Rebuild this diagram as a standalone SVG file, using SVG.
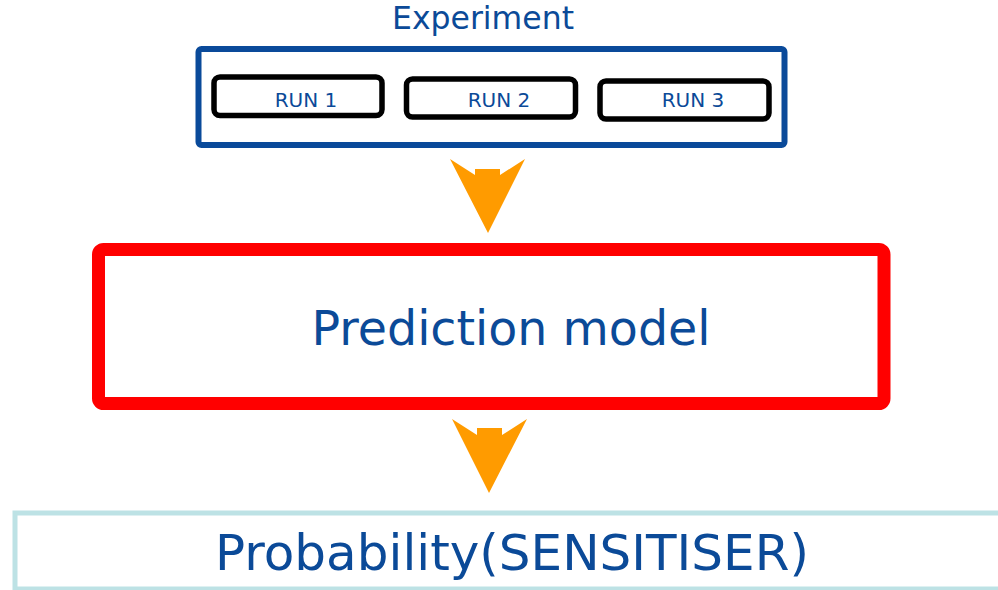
<svg xmlns="http://www.w3.org/2000/svg" width="998" height="590" viewBox="0 0 998 590">
<style>
.t{font-family:"DejaVu Sans","Verdana",sans-serif;fill:#0b4a98;text-anchor:middle}
.run{fill:#ffffff;stroke:#000000;stroke-width:5.5}
.arrow{fill:#ff9b00}
</style>
<rect width="998" height="590" fill="#ffffff"/>
<g id="experiment">
<text class="t" x="483" y="29" font-size="31.5">Experiment</text>
<rect x="198.5" y="49" width="586" height="96" rx="3" fill="#ffffff" stroke="#0a4a9a" stroke-width="6"/>
</g>
<g id="run1">
<rect class="run" x="214" y="77" width="168" height="38.5" rx="6"/>
<text class="t" x="306" y="107" font-size="20">RUN 1</text>
</g>
<g id="run2">
<rect class="run" x="406.5" y="79" width="169" height="38" rx="6"/>
<text class="t" x="499" y="107" font-size="20">RUN 2</text>
</g>
<g id="run3">
<rect class="run" x="600" y="81" width="169" height="38" rx="6"/>
<text class="t" x="693" y="107" font-size="20">RUN 3</text>
</g>
<g id="prediction">
<rect x="98.5" y="249.5" width="785.5" height="154" rx="5" fill="#ffffff" stroke="#ff0000" stroke-width="13"/>
<text class="t" x="511" y="345" font-size="47.5">Prediction model</text>
</g>
<g id="probability">
<rect x="15" y="513" width="1000" height="76" fill="#ffffff" stroke="#bde2e5" stroke-width="5"/>
<text class="t" x="512" y="570" font-size="50">Probability(SENSITISER)</text>
</g>
<g id="connectors">
<polygon class="arrow" points="450,159 475,175 475,169 500,169 500,175 525,159 488,233"/>
<polygon class="arrow" points="452,419 477,435 477,428 502,428 502,435 527,419 489,493"/>
</g>
</svg>
